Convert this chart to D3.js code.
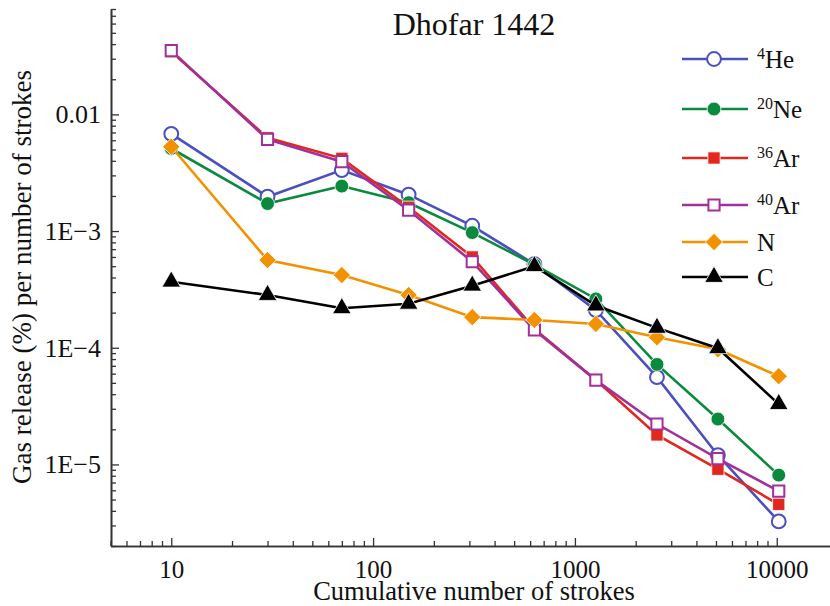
<!DOCTYPE html>
<html>
<head>
<meta charset="utf-8">
<script src="https://cdn.jsdelivr.net/npm/d3@7"></script>
<style>
  html, body { margin: 0; padding: 0; background: #fff; }
  svg { display: block; font-family: "Liberation Serif", "DejaVu Serif", serif; }
</style>
</head>
<body>
<svg id="chart" width="830" height="606"></svg>
<script>
// ---- data ----
const strokes = [10, 30, 70, 150, 310, 630, 1270, 2550, 5110, 10230];
const he4  = [0.0068, 0.00197, 0.00333, 0.00205, 0.00111, 5.2e-4, 2.1e-4, 5.6e-5, 1.2e-5, 3.25e-6];
const ne20 = [0.0051, 0.00172, 0.00243, 0.00175, 9.7e-4, 5.15e-4, 2.62e-4, 7.2e-5, 2.45e-5, 8.1e-6];
const ar36 = [0.0345, 0.0063, 0.0042, 0.0016, 6.0e-4, 1.45e-4, 5.3e-5, 1.79e-5, 9.1e-6, 4.55e-6];
const ar40 = [0.0352, 0.0061, 0.00393, 0.00151, 5.46e-4, 1.42e-4, 5.28e-5, 2.22e-5, 1.12e-5, 5.9e-6];
const nitrogen = [0.00528, 5.64e-4, 4.2e-4, 2.83e-4, 1.83e-4, 1.73e-4, 1.6e-4, 1.23e-4, 9.7e-5, 5.7e-5];
const carbon = [3.68e-4, 2.83e-4, 2.18e-4, 2.38e-4, 3.4e-4, 5.0e-4, 2.3e-4, 1.48e-4, 9.9e-5, 3.29e-5];

const seriesElements = ["He", "Ne", "Ar", "Ar", "N", "C"];
const seriesMass = ["4", "20", "36", "40", "", ""];
const seriesValues = [he4, ne20, ar36, ar40, nitrogen, carbon];

const xTickValues = [10, 100, 1000, 10000];
const xTickLabels = ["10", "100", "1000", "10000"];
const yTickValues = [0.01, 1e-3, 1e-4, 1e-5];
const yTickLabels = ["0.01", "1E\u22123", "1E\u22124", "1E\u22125"];

const title = "Dhofar 1442";
const xTitle = "Cumulative number of strokes";
const yTitle = "Gas release (%) per number of strokes";

// ---- styles ----
const styles = [
  {color: "#4b4fbf", symbol: d3.symbolCircle, size: 150, filled: false},
  {color: "#0b8a3e", symbol: d3.symbolCircle, size: 150, filled: true},
  {color: "#e0281e", symbol: d3.symbolSquare, size: 150, filled: true},
  {color: "#a2309b", symbol: d3.symbolSquare, size: 125, filled: false},
  {color: "#f39200", symbol: d3.symbolDiamond2 || d3.symbolDiamond, size: 190, filled: true},
  {color: "#000000", symbol: d3.symbolTriangle, size: 150, filled: true}
];
const legendRowY = [59, 109, 158, 205, 242, 277];

const svg = d3.select("#chart");
const x = d3.scaleLog().domain([5, 20000]).range([110.5, 837.5]);
const y = d3.scaleLog().domain([2e-6, 0.08]).range([546, 9]);

// minor ticks
function minorTicks(domain) {
  const out = [];
  const lo = Math.floor(Math.log10(domain[0])), hi = Math.ceil(Math.log10(domain[1]));
  for (let e = lo; e <= hi; e++) {
    for (let m = 2; m <= 9; m++) {
      const v = m * Math.pow(10, e);
      if (v >= domain[0] * 0.999 && v <= domain[1] * 1.001) out.push(v);
    }
  }
  return out;
}

const axisColor = "#333";
// x axis
const gx = svg.append("g").attr("transform", "translate(0,546)");
gx.call(d3.axisBottom(x).tickValues(minorTicks(x.domain())).tickSize(-5).tickSizeOuter(0).tickFormat(""));
gx.append("g").call(d3.axisBottom(x).tickValues(xTickValues).tickSize(-8).tickSizeOuter(0)
  .tickPadding(14).tickFormat((d, i) => xTickLabels[i]));
// y axis
const gy = svg.append("g").attr("transform", "translate(111,0)");
gy.call(d3.axisLeft(y).tickValues(minorTicks(y.domain())).tickSize(-5).tickSizeOuter(0).tickFormat(""));
gy.append("g").call(d3.axisLeft(y).tickValues(yTickValues).tickSize(-8).tickSizeOuter(0)
  .tickPadding(10).tickFormat((d, i) => yTickLabels[i]));

svg.selectAll(".domain").attr("stroke", axisColor).attr("stroke-width", 1.6);
svg.selectAll(".tick line").attr("stroke", axisColor).attr("stroke-width", 1.3);
svg.selectAll(".tick text").attr("fill", "#111").style("font-size", "26px")
  .style("font-family", "'Liberation Serif', serif");
gx.selectAll(".tick text").style("font-size", "25px");

// titles
svg.append("text").attr("x", 474).attr("y", 35).attr("text-anchor", "middle")
  .style("font-size", "32px").attr("fill", "#111").text(title);
svg.append("text").attr("x", 474).attr("y", 600).attr("text-anchor", "middle")
  .style("font-size", "26.5px").attr("fill", "#111").text(xTitle);
svg.append("text").attr("transform", "translate(31,277) rotate(-90)").attr("text-anchor", "middle")
  .style("font-size", "27px").attr("fill", "#111").text(yTitle);

// series
const line = d3.line().x(d => x(d[0])).y(d => y(d[1]));
seriesValues.forEach((vals, i) => {
  const st = styles[i];
  const pts = strokes.map((s, j) => [s, vals[j]]);
  const g = svg.append("g");
  g.append("path").attr("d", line(pts)).attr("fill", "none")
    .attr("stroke", st.color).attr("stroke-width", 2.6);
  g.selectAll("path.m").data(pts).enter().append("path").attr("class", "m")
    .attr("transform", d => `translate(${x(d[0])},${y(d[1])})`)
    .attr("d", d3.symbol().type(st.symbol).size(st.size)())
    .attr("fill", st.filled ? st.color : "#fff")
    .attr("stroke", st.filled ? "#fff" : st.color)
    .attr("stroke-width", st.filled ? 0.8 : 2);
});

// legend
seriesValues.forEach((vals, i) => {
  const st = styles[i];
  const yy = legendRowY[i];
  const g = svg.append("g");
  g.append("line").attr("x1", 682).attr("x2", 748).attr("y1", yy).attr("y2", yy)
    .attr("stroke", st.color).attr("stroke-width", 2.6);
  g.append("path").attr("transform", `translate(714,${yy})`)
    .attr("d", d3.symbol().type(st.symbol).size(st.size)())
    .attr("fill", st.filled ? st.color : "#fff")
    .attr("stroke", st.filled ? "#fff" : st.color)
    .attr("stroke-width", st.filled ? 0.8 : 2);
  const t = g.append("text").attr("x", 757).attr("y", yy + 9).attr("fill", "#111")
    .style("font-size", "25px");
  if (seriesMass[i]) {
    t.append("tspan").text(seriesMass[i]).style("font-size", "16px").attr("dy", -9);
    t.append("tspan").text(seriesElements[i]).attr("dy", 9);
  } else {
    t.append("tspan").text(seriesElements[i]);
  }
});
</script>
</body>
</html>
